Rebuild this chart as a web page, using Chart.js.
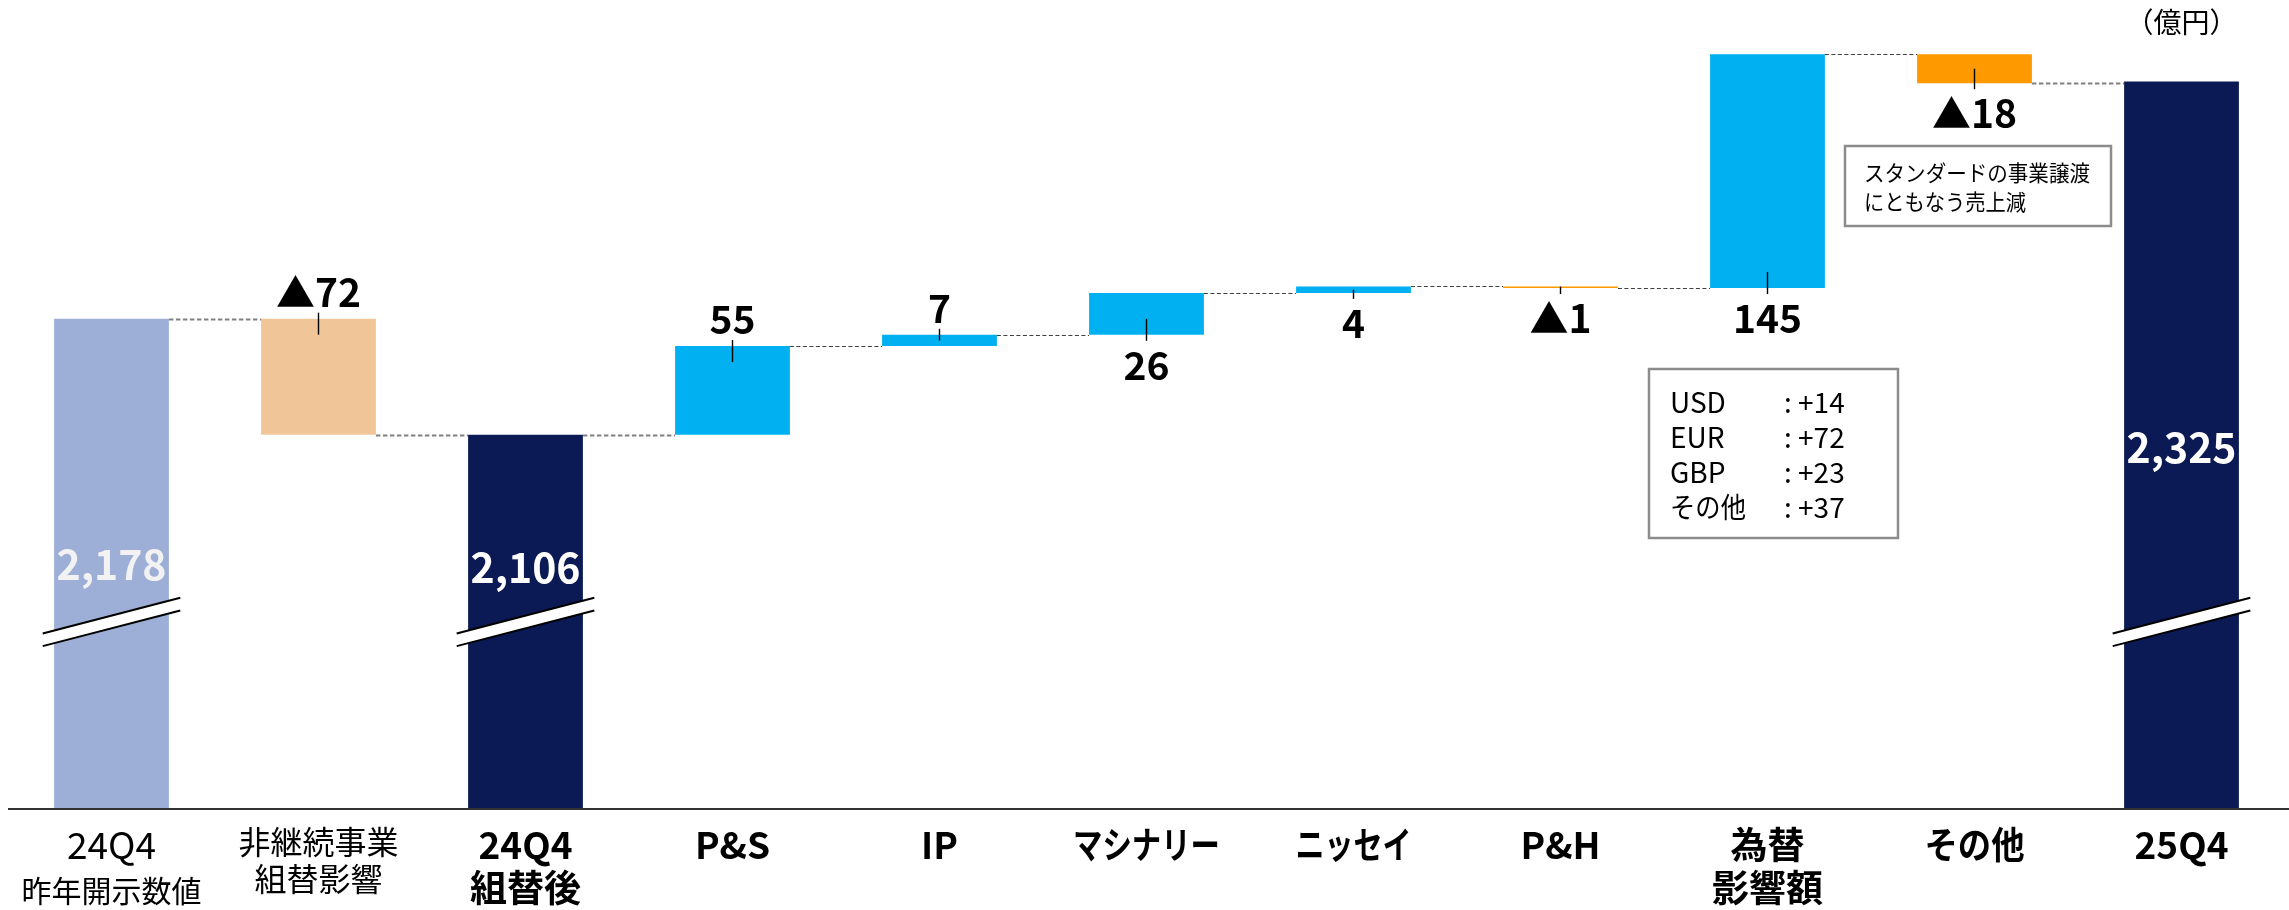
<!DOCTYPE html>
<html>
<head>
<meta charset="utf-8">
<script src="https://cdn.jsdelivr.net/npm/chart.js@4.4.1/dist/chart.umd.min.js"></script>
<style>
html,body{margin:0;padding:0;background:#ffffff;}
canvas{display:block;}
</style>
</head>
<body>
<canvas id="c" width="2289" height="910"></canvas>
<script>
// ---- data ----
const categories = [['24Q4','昨年開示数値'], ['非継続事業','組替影響'], ['24Q4','組替後'], ['P&S'], ['IP'], ['マシナリー'], ['ニッセイ'], ['P&H'], ['為替','影響額'], ['その他'], ['25Q4']];
const kinds = ['total','delta','total','delta','delta','delta','delta','delta','delta','delta','total'];
const values = [2178, -72, 2106, 55, 7, 26, 4, -1, 145, -18, 2325];
const labelSide = ['inside','above','inside','above','above','below','below','below','below','below','inside'];
const fxNames = ['USD','EUR','GBP','その他'];
const fxValues = ['+14','+72','+23','+37'];
const noteLines = ['スタンダードの事業譲渡','にともなう売上減'];
const unitLabel = '（億円）';
const axisMin = 1874;
const axisMax = 2357;
const axisBreakValue = 1990;

// ---- build floating ranges ----
let running = 0;
const ranges = values.map((v, i) => {
  if (kinds[i] === 'total') { running = v; return [axisMin, v]; }
  const r = [running, running + v];
  running += v;
  return r;
});

// ---- styles ----
const FONT = '"Noto Sans CJK JP", "Noto Sans", sans-serif';
const barColors = ['#9DAFD7','#F0C699','#0B1A54','#00B0F0','#00B0F0','#00B0F0','#00B0F0','#FF9900','#00B0F0','#FF9900','#0B1A54'];
const darkConnector = [false,false,false,true,true,true,true,true,true,false];
const insideFrac = {0: 0.502, 2: 0.356, 10: 0.504};
const insideColor = {0: '#F2F2F2', 2: '#FFFFFF', 10: '#FFFFFF'};
const catMaxWidth = {5: 147, 6: 116, 9: 100};
const noteMaxWidth = [226, 162];

function catStyle(i, line) {
  if (i === 0) return line === 0 ? {w: 400, s: 37, b: 859} : {w: 400, s: 30, b: 902};
  if (i === 1) return line === 0 ? {w: 400, s: 32, b: 854} : {w: 400, s: 32, b: 891};
  return line === 0 ? {w: 700, s: 37, b: 859} : {w: 700, s: 37, b: 902};
}

const decor = {
  id: 'decor',
  afterDatasetsDraw(chart) {
    const ctx = chart.ctx;
    const meta = chart.getDatasetMeta(0);
    const ys = chart.scales.y;
    const area = chart.chartArea;
    const bars = meta.data.map(b => {
      const p = b.getProps(['x','y','base','width'], true);
      return {x: p.x, top: Math.min(p.y, p.base), bottom: Math.max(p.y, p.base), w: p.width};
    });

    ctx.save();
    // connectors
    for (let i = 0; i < bars.length - 1; i++) {
      const y = Math.round(ys.getPixelForValue(ranges[i][1])) + 0.5;
      ctx.beginPath();
      if (darkConnector[i]) { ctx.strokeStyle = '#404040'; ctx.lineWidth = 1.2; ctx.setLineDash([4,2.5]); }
      else { ctx.strokeStyle = '#808080'; ctx.lineWidth = 1.8; ctx.setLineDash([4.5,2.5]); }
      ctx.moveTo(bars[i].x + bars[i].w / 2, y);
      ctx.lineTo(bars[i+1].x - bars[i+1].w / 2, y);
      ctx.stroke();
    }
    ctx.setLineDash([]);

    // break marks on total bars
    const yb = ys.getPixelForValue(axisBreakValue);
    bars.forEach((b, i) => {
      if (kinds[i] !== 'total') return;
      const hw = 68.8, dy = 17.85, gap = 12.7;
      const x0 = b.x - hw, x1 = b.x + hw;
      const u0 = yb - gap/2 + dy, u1 = yb - gap/2 - dy;
      ctx.fillStyle = '#ffffff';
      ctx.beginPath();
      ctx.moveTo(x0, u0); ctx.lineTo(x1, u1); ctx.lineTo(x1, u1 + gap); ctx.lineTo(x0, u0 + gap); ctx.closePath();
      ctx.fill();
      ctx.strokeStyle = '#000000'; ctx.lineWidth = 2;
      ctx.beginPath(); ctx.moveTo(x0, u0); ctx.lineTo(x1, u1); ctx.stroke();
      ctx.beginPath(); ctx.moveTo(x0, u0 + gap); ctx.lineTo(x1, u1 + gap); ctx.stroke();
    });

    // leader lines + value labels
    ctx.textAlign = 'center';
    ctx.textBaseline = 'alphabetic';
    bars.forEach((b, i) => {
      const v = values[i];
      const h = b.bottom - b.top;
      if (labelSide[i] === 'inside') {
        const cy = b.top + (area.bottom - b.top) * insideFrac[i];
        ctx.fillStyle = insideColor[i];
        ctx.font = `700 41px ${FONT}`;
        ctx.fillText(v.toLocaleString('en-US'), b.x, cy + 15);
        return;
      }
      const txt = v < 0 ? '▲' + Math.abs(v) : String(v);
      ctx.strokeStyle = '#000000'; ctx.lineWidth = 1.4;
      ctx.beginPath();
      if (labelSide[i] === 'above') {
        ctx.moveTo(b.x, b.top - 6); ctx.lineTo(b.x, b.top + Math.min(16, h / 2));
      } else {
        ctx.moveTo(b.x, b.bottom - Math.min(16, Math.max(h / 2, 1.5))); ctx.lineTo(b.x, b.bottom + 6);
      }
      ctx.stroke();
      ctx.fillStyle = '#000000';
      ctx.font = `700 39px ${FONT}`;
      if (labelSide[i] === 'above') ctx.fillText(txt, b.x, b.top - 12);
      else ctx.fillText(txt, b.x, b.bottom + 45);
    });

    // axis line
    ctx.strokeStyle = '#333333'; ctx.lineWidth = 2;
    ctx.beginPath(); ctx.moveTo(8, area.bottom); ctx.lineTo(chart.width, area.bottom); ctx.stroke();

    // category labels
    ctx.fillStyle = '#000000';
    bars.forEach((b, i) => {
      categories[i].forEach((line, j) => {
        const st = catStyle(i, j);
        ctx.font = `${st.w} ${st.s}px ${FONT}`;
        if (catMaxWidth[i]) ctx.fillText(line, b.x, st.b, catMaxWidth[i]);
        else ctx.fillText(line, b.x, st.b);
      });
    });

    // unit label
    ctx.font = `400 28px ${FONT}`;
    ctx.fillText(unitLabel, bars[10].x, 33);

    // note box
    ctx.strokeStyle = '#8C8C8C'; ctx.lineWidth = 2.5;
    ctx.strokeRect(1845, 146, 266, 80);
    ctx.textAlign = 'left';
    ctx.font = `400 22px ${FONT}`;
    ctx.fillText(noteLines[0], 1864, 181, noteMaxWidth[0]);
    ctx.fillText(noteLines[1], 1864, 210, noteMaxWidth[1]);

    // fx box
    ctx.strokeRect(1649, 369, 249, 169);
    ctx.font = `400 28px ${FONT}`;
    fxNames.forEach((n, k) => {
      const by = 413 + k * 35;
      ctx.fillText(n, 1670, by, 76);
      ctx.fillText(': ' + fxValues[k], 1784, by);
    });
    ctx.restore();
  }
};

new Chart(document.getElementById('c').getContext('2d'), {
  type: 'bar',
  data: {
    labels: categories,
    datasets: [{
      data: ranges,
      backgroundColor: barColors,
      borderWidth: 0,
      borderSkipped: false,
      categoryPercentage: 1,
      barPercentage: 0.5546
    }]
  },
  options: {
    responsive: false,
    animation: false,
    devicePixelRatio: 1,
    layout: {padding: {left: 8, right: 4, top: 30, bottom: 101}},
    plugins: {legend: {display: false}, tooltip: {enabled: false}},
    scales: {
      x: {display: false},
      y: {display: false, min: axisMin, max: axisMax}
    }
  },
  plugins: [decor]
});
</script>
</body>
</html>
